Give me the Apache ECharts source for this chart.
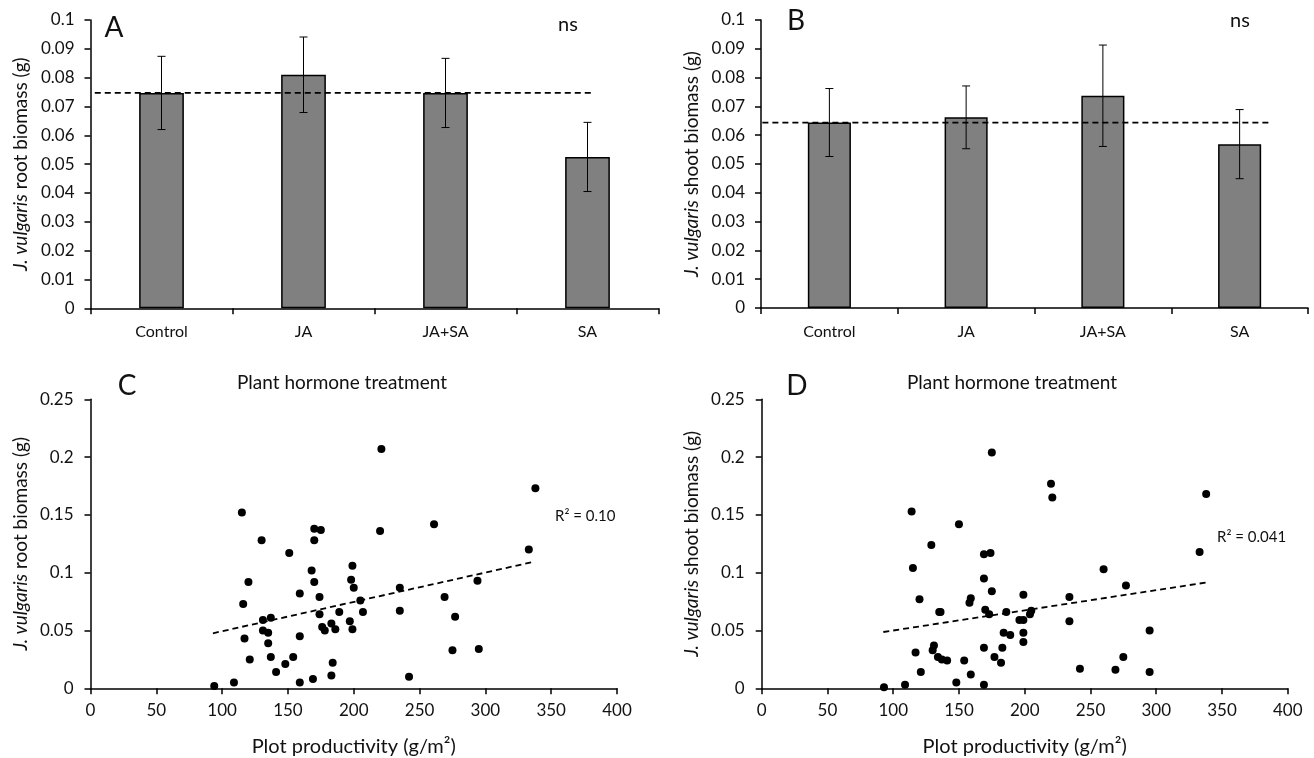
<!DOCTYPE html>
<html>
<head>
<meta charset="utf-8">
<script src="https://cdn.jsdelivr.net/npm/echarts@6/dist/echarts.min.js"></script>
<style>
html,body{margin:0;padding:0;background:#fff;}
#chart{width:1314px;height:758px;}
</style>
</head>
<body>
<div id="chart"></div>
<script>
// ---------- DATA ----------
const categories = ['Control', 'JA', 'JA+SA', 'SA'];
const rootMean = [0.0747, 0.081, 0.0747, 0.0525];
const rootSE = [0.0127, 0.0131, 0.012, 0.012];
const shootMean = [0.0644, 0.0662, 0.0737, 0.0569];
const shootSE = [0.0118, 0.0109, 0.0176, 0.012];
const rootControlLine = 0.0747;
const shootControlLine = 0.0644;

const rootX = [94,109,115,116,117,120,121,130,131,131,137,135,135,137,141,148,151,154,159,159,159,168,170,170,170,169,175,174,174,176,178,183,184,183,186,189,197,199,199,198,200,221,220,205,207,235,235,242,261,269,277,275,295,294,333,338];
const rootY = [0.002,0.005,0.152,0.073,0.043,0.092,0.025,0.128,0.059,0.050,0.061,0.048,0.039,0.027,0.014,0.021,0.117,0.027,0.082,0.045,0.005,0.102,0.138,0.128,0.092,0.008,0.137,0.079,0.064,0.053,0.050,0.056,0.022,0.011,0.051,0.066,0.058,0.051,0.106,0.094,0.087,0.207,0.136,0.076,0.066,0.087,0.067,0.010,0.142,0.079,0.062,0.033,0.034,0.093,0.120,0.173];
const shootX = [93,109,114,115,117,120,121,129,131,130,135,136,134,137,141,148,150,154,159,158,159,169,169,174,175,170,173,169,169,175,177,182,183,184,189,186,196,199,199,199,199,220,221,205,204,234,234,242,260,277,269,275,295,295,333,338];
const shootY = [0.001,0.003,0.153,0.104,0.031,0.077,0.014,0.124,0.037,0.033,0.066,0.066,0.027,0.025,0.024,0.005,0.142,0.024,0.078,0.074,0.012,0.095,0.116,0.117,0.204,0.068,0.064,0.035,0.003,0.084,0.027,0.022,0.035,0.048,0.046,0.066,0.059,0.059,0.081,0.048,0.040,0.177,0.165,0.067,0.064,0.079,0.058,0.017,0.103,0.089,0.016,0.027,0.050,0.014,0.118,0.168];
const rootTrendX = [93, 337];
const rootTrendY = [0.0476, 0.1095];
const shootTrendX = [92.5, 339];
const shootTrendY = [0.0487, 0.0917];
const rootR2 = 'R² = 0.10';
const shootR2 = 'R² = 0.041';
const barYTicks = {min: 0, max: 0.1, interval: 0.01};
const scatYTicks = {min: 0, max: 0.25, interval: 0.05};
const scatXTicks = {min: 0, max: 400, interval: 50};

// ---------- CHART ----------
const FONT = 'Lato';
const INK = '#111';
const chart = echarts.init(document.getElementById('chart'), null, {renderer: 'canvas'});

const axisLine = {show: true, lineStyle: {color: '#000', width: 1.5}};
const axisTick = {show: true, inside: false, length: 6, lineStyle: {color: '#000', width: 1.5}};
const nameStyle = {color: INK, fontSize: 19, fontFamily: FONT,
  rich: {i: {fontStyle: 'italic', fontSize: 19, fontFamily: FONT, color: INK},
         n: {fontSize: 19, fontFamily: FONT, color: INK}}};

function barYAxis(gridIndex, name) {
  return {
    type: 'value', gridIndex, min: barYTicks.min, max: barYTicks.max, interval: barYTicks.interval,
    axisLine, axisTick, splitLine: {show: false},
    axisLabel: {color: INK, fontSize: 17, fontFamily: FONT, margin: 16},
    name, nameLocation: 'middle', nameRotate: 90, nameGap: 60,
    nameTextStyle: nameStyle
  };
}
function scatYAxis(gridIndex, name) {
  return {
    type: 'value', gridIndex, min: scatYTicks.min, max: scatYTicks.max, interval: scatYTicks.interval,
    axisLine, axisTick, splitLine: {show: false},
    axisLabel: {color: INK, fontSize: 17, fontFamily: FONT, margin: 17},
    name, nameLocation: 'middle', nameRotate: 90, nameGap: 60,
    nameTextStyle: nameStyle
  };
}
function catXAxis(gridIndex) {
  return {
    type: 'category', gridIndex, data: categories,
    axisLine, axisTick: {show: true, length: 6, lineStyle: {color: '#000', width: 1.5}},
    axisLabel: {color: INK, fontSize: 16, fontFamily: FONT, margin: 16}
  };
}
function hiddenXAxis(gridIndex) {
  return {type: 'value', gridIndex, min: 0, max: 4, show: false};
}
function scatXAxis(gridIndex) {
  return {
    type: 'value', gridIndex, min: scatXTicks.min, max: scatXTicks.max, interval: scatXTicks.interval,
    axisLine, axisTick, splitLine: {show: false},
    axisLabel: {color: INK, fontSize: 17, fontFamily: FONT, margin: 14},
    name: 'Plot productivity (g/m²)', nameLocation: 'middle', nameGap: 48,
    nameTextStyle: {color: INK, fontSize: 20, fontFamily: FONT}
  };
}

function errorSeries(xAxisIndex, yAxisIndex, mean, se) {
  return {
    type: 'custom', xAxisIndex, yAxisIndex, z: 5,
    data: mean.map((m, i) => [i, m - se[i], m + se[i]]),
    renderItem(params, api) {
      const i = api.value(0);
      const pHi = api.coord([i, api.value(2)]);
      const pLo = api.coord([i, api.value(1)]);
      const w = 4;
      const st = {stroke: '#000', lineWidth: 1};
      return {type: 'group', children: [
        {type: 'line', shape: {x1: pHi[0], y1: pHi[1], x2: pLo[0], y2: pLo[1]}, style: st},
        {type: 'line', shape: {x1: pHi[0] - w, y1: pHi[1], x2: pHi[0] + w, y2: pHi[1]}, style: st},
        {type: 'line', shape: {x1: pLo[0] - w, y1: pLo[1], x2: pLo[0] + w, y2: pLo[1]}, style: st}
      ]};
    }
  };
}

function barSeries(xAxisIndex, yAxisIndex, data) {
  return {
    type: 'bar', xAxisIndex, yAxisIndex, data, barWidth: '31.5%',
    itemStyle: {color: '#808080', borderColor: '#000', borderWidth: 1.5}
  };
}
function hlineSeries(xAxisIndex, yAxisIndex, y, x0, x1) {
  return {
    type: 'line', xAxisIndex, yAxisIndex, z: 4, symbol: 'none',
    data: [[x0, y], [x1, y]],
    lineStyle: {color: '#000', width: 1.8, type: [6, 4]}
  };
}
function scatterSeries(xAxisIndex, yAxisIndex, xs, ys) {
  return {
    type: 'scatter', xAxisIndex, yAxisIndex, symbolSize: 8,
    data: xs.map((x, i) => [x, ys[i]]),
    itemStyle: {color: '#000', opacity: 1}
  };
}
function trendSeries(xAxisIndex, yAxisIndex, xs, ys) {
  return {
    type: 'line', xAxisIndex, yAxisIndex, symbol: 'none', z: 3,
    data: xs.map((x, i) => [x, ys[i]]),
    lineStyle: {color: '#000', width: 1.8, type: [6, 4]}
  };
}

function txt(x, y, text, size, align) {
  return {type: 'text', x, y, style: {text, fontSize: size, fontFamily: FONT, fill: INK,
    textAlign: align || 'center', textVerticalAlign: 'middle'}};
}

const yNameRoot = '{i|J. vulgaris}{n| root biomass (g)}';
const yNameShoot = '{i|J. vulgaris}{n| shoot biomass (g)}';

const option = {
  backgroundColor: '#fff',
  animation: false,
  grid: [
    {left: 90.5, top: 20, width: 568, height: 288.3},
    {left: 761, top: 20, width: 547, height: 288},
    {left: 90.5, top: 399.3, width: 526.5, height: 289},
    {left: 761.7, top: 399.3, width: 526, height: 289}
  ],
  xAxis: [
    catXAxis(0), catXAxis(1), scatXAxis(2), scatXAxis(3), hiddenXAxis(0), hiddenXAxis(1)
  ],
  yAxis: [
    barYAxis(0, yNameRoot), barYAxis(1, yNameShoot), scatYAxis(2, yNameRoot), scatYAxis(3, yNameShoot)
  ],
  series: [
    barSeries(0, 0, rootMean),
    errorSeries(0, 0, rootMean, rootSE),
    hlineSeries(4, 0, rootControlLine, 0.03, 3.53),
    barSeries(1, 1, shootMean),
    errorSeries(1, 1, shootMean, shootSE),
    hlineSeries(5, 1, shootControlLine, 0.01, 3.73),
    scatterSeries(2, 2, rootX, rootY),
    trendSeries(2, 2, rootTrendX, rootTrendY),
    scatterSeries(3, 3, shootX, shootY),
    trendSeries(3, 3, shootTrendX, shootTrendY)
  ],
  graphic: [
    txt(114, 28, 'A', 28),
    txt(568, 25, 'ns', 20),
    txt(796, 21, 'B', 28),
    txt(1240, 21, 'ns', 20),
    txt(127, 386, 'C', 28),
    txt(797, 386, 'D', 28),
    txt(342, 383, 'Plant hormone treatment', 19),
    txt(1012, 383, 'Plant hormone treatment', 19),
    txt(555, 516, rootR2, 15, 'left'),
    txt(1217, 537, shootR2, 15, 'left')
  ]
};
chart.setOption(option);
</script>
</body>
</html>
